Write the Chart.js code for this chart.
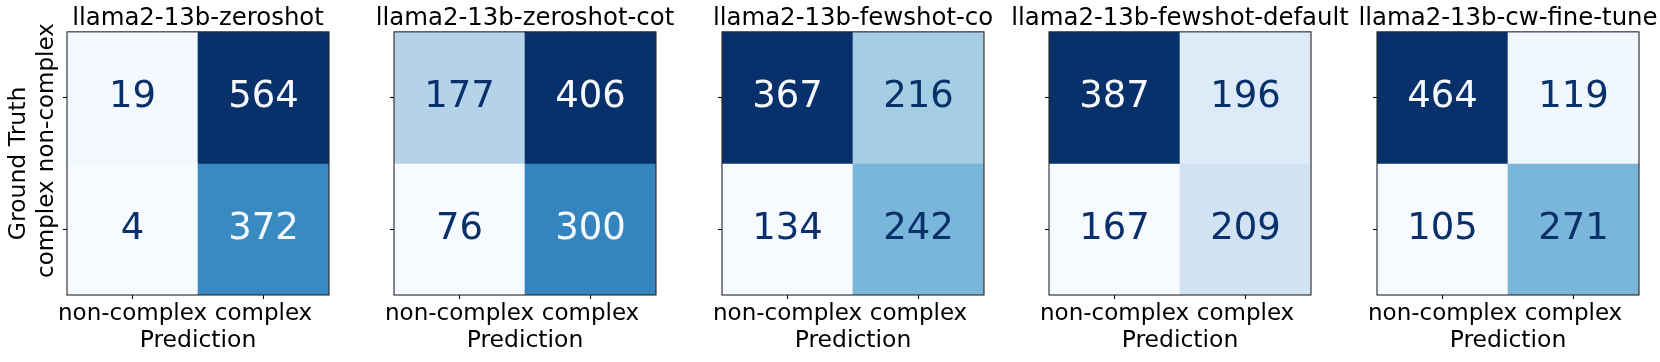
<!DOCTYPE html>
<html>
<head>
<meta charset="utf-8">
<script src="https://cdn.jsdelivr.net/npm/chart.js@4.4.0/dist/chart.umd.min.js"></script>
<style>
  html, body { margin: 0; padding: 0; background: #fff; }
  #wrap { position: relative; width: 1660px; height: 362px; overflow: hidden; }
  #wrap canvas { position: absolute; top: 0; }
</style>
</head>
<body>
<div id="wrap"></div>
<script>
// one confusion matrix per model, rows = ground truth, cols = prediction
const models = ['llama2-13b-zeroshot', 'llama2-13b-zeroshot-cot', 'llama2-13b-fewshot-co',
                'llama2-13b-fewshot-default', 'llama2-13b-cw-fine-tune'];
const predLabels = ['non-complex', 'complex'];
const trueLabels = ['non-complex', 'complex'];
const zeroshot       = [[19, 564], [4, 372]];
const zeroshotCot    = [[177, 406], [76, 300]];
const fewshotCo      = [[367, 216], [134, 242]];
const fewshotDefault = [[387, 196], [167, 209]];
const cwFineTune     = [[464, 119], [105, 271]];
const matrices = [zeroshot, zeroshotCot, fewshotCo, fewshotDefault, cwFineTune];

// matplotlib "Blues"
const BLUES = ['#f7fbff', '#deebf7', '#c6dbef', '#9ecae1', '#6baed6', '#4292c6', '#2171b5', '#08519c', '#08306b'];
function hex2rgb(h) { return [1, 3, 5].map(i => parseInt(h.slice(i, i + 2), 16)); }
function blues(t) {
  t = Math.max(0, Math.min(1, t)) * (BLUES.length - 1);
  const i = Math.min(Math.floor(t), BLUES.length - 2), f = t - i;
  const a = hex2rgb(BLUES[i]), b = hex2rgb(BLUES[i + 1]);
  return 'rgb(' + a.map((v, k) => Math.round(v + (b[k] - v) * f)).join(',') + ')';
}

Chart.defaults.font.family = '"DejaVu Sans", sans-serif';
Chart.defaults.color = '#000';

const PLOT_LEFT = [67, 394, 722, 1049, 1377];
const SIDE = 67, PLOT_W = 262, H = 362;
const TICK_PX = 23, LABEL_PX = 23.5, TITLE_PX = 24.4, CELL_PX = 37;

function cellPlugin(m, showY) {
  const flat = m.flat();
  const thresh = (Math.min(...flat) + Math.max(...flat)) / 2;
  return {
    id: 'cells',
    afterDatasetsDraw(chart) {
      const {ctx, chartArea: a, scales: {x, y}} = chart;
      ctx.save();
      ctx.font = CELL_PX + 'px "DejaVu Sans"';
      ctx.textAlign = 'center';
      ctx.textBaseline = 'middle';
      m.forEach((row, r) => row.forEach((v, c) => {
        ctx.fillStyle = v < thresh ? BLUES[8] : BLUES[0];
        ctx.fillText(String(v), x.getPixelForValue(c), y.getPixelForValue(r + 0.5));
      }));
      ctx.strokeStyle = '#262626';
      ctx.lineWidth = 1.1;
      ctx.strokeRect(a.left, a.top, a.width, a.height);
      if (showY) {
        ctx.font = TICK_PX + 'px "DejaVu Sans"';
        ctx.fillStyle = '#000';
        ctx.textBaseline = 'alphabetic';
        trueLabels.forEach((lab, r) => {
          ctx.save();
          ctx.translate(y.right - 14, y.getPixelForValue(r + 0.5));
          ctx.rotate(-Math.PI / 2);
          ctx.fillText(lab, 0, 0);
          ctx.restore();
        });
      }
      ctx.restore();
    }
  };
}

matrices.forEach((m, i) => {
  const flat = m.flat();
  const lo = Math.min(...flat), hi = Math.max(...flat);
  const cv = document.createElement('canvas');
  cv.width = SIDE * 2 + PLOT_W;
  cv.height = H;
  cv.style.left = (PLOT_LEFT[i] - SIDE) + 'px';
  document.getElementById('wrap').appendChild(cv);

  const datasets = m.map((row, r) => ({
    data: row.map(() => [r, r + 1]),
    backgroundColor: row.map(v => blues((v - lo) / (hi - lo))),
    borderWidth: 0,
    barPercentage: 1,
    categoryPercentage: 1,
    grouped: false
  }));

  new Chart(cv, {
    type: 'bar',
    data: { labels: predLabels, datasets },
    options: {
      responsive: false,
      animation: false,
      layout: { padding: 0 },
      plugins: {
        legend: { display: false },
        tooltip: { enabled: false },
        title: {
          display: true, text: models[i], color: '#000',
          font: { size: TITLE_PX, weight: 'normal', lineHeight: 1.1 },
          padding: { top: 5, bottom: 0 }
        }
      },
      scales: {
        x: {
          type: 'category',
          grid: { display: true, drawOnChartArea: false, offset: false, tickLength: 4, tickColor: '#000', tickWidth: 1.1 },
          border: { display: false },
          ticks: { font: { size: TICK_PX }, color: '#000', padding: 1.5, maxRotation: 0, minRotation: 0, autoSkip: false },
          title: { display: true, text: 'Prediction', color: '#000', font: { size: LABEL_PX }, padding: { top: 0, bottom: 7 } },
          afterFit: s => { s.height = 67; }
        },
        y: {
          type: 'linear', min: 0, max: 2, reverse: true,
          afterBuildTicks: s => { s.ticks = trueLabels.map((_, r) => ({ value: r + 0.5 })); },
          grid: { display: true, drawOnChartArea: false, tickLength: 4, tickColor: '#000', tickWidth: 1.1 },
          border: { display: false },
          ticks: { display: false },
          title: { display: i === 0, text: 'Ground Truth', color: '#000', font: { size: LABEL_PX }, padding: { top: 5, bottom: 0 } },
          afterFit: s => { s.width = SIDE; }
        },
        y2: {
          type: 'linear', position: 'right', display: true,
          grid: { display: false }, border: { display: false }, ticks: { display: false },
          afterFit: s => { s.width = SIDE; }
        }
      }
    },
    plugins: [cellPlugin(m, i === 0)]
  });
});
</script>
</body>
</html>
